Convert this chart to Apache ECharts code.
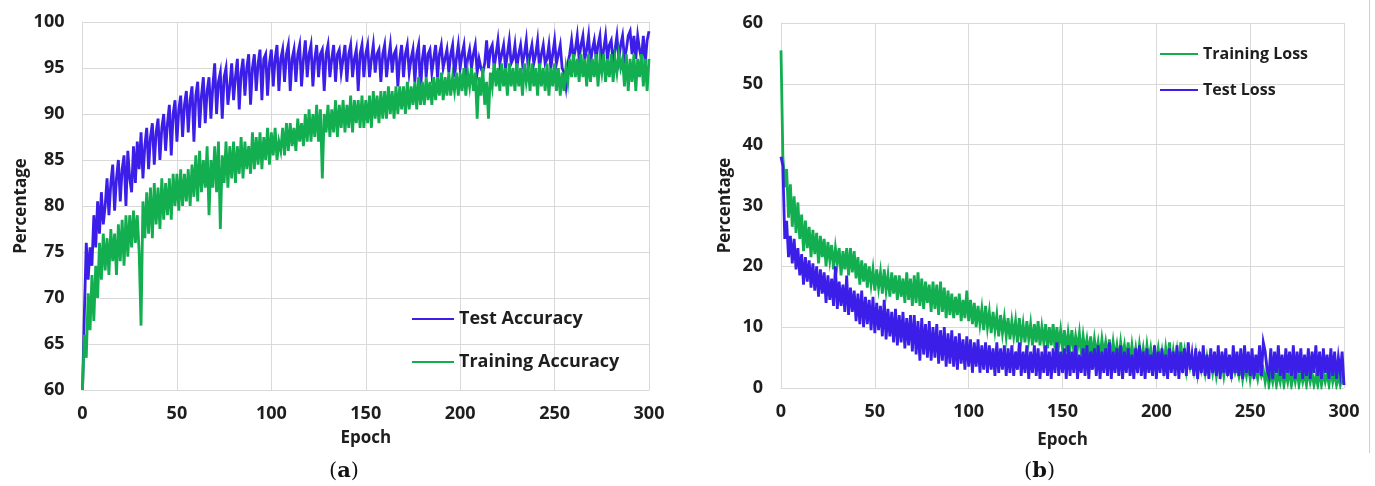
<!DOCTYPE html>
<html>
<head>
<meta charset="utf-8">
<title>Accuracy and loss per epoch</title>
<script src="https://cdn.jsdelivr.net/npm/echarts@6/dist/echarts.min.js"></script>
<style>
  html, body { margin: 0; padding: 0; background: #ffffff; }
  #chart { width: 1375px; height: 486px; }
</style>
</head>
<body>
<div id="chart"></div>
<script>
// Epoch ticks shared by both panels
const epochTicks = [0, 50, 100, 150, 200, 250, 300];
const accTicks = [60, 65, 70, 75, 80, 85, 90, 95, 100];
const lossTicks = [0, 10, 20, 30, 40, 50, 60];

// Panel (a): accuracy per epoch, epochs 0..300
const testAcc = [
  60, 68.5, 76, 72, 75.5, 73.5, 79, 75.5, 80.5, 77,
  81.5, 78, 80, 83, 79, 82.5, 84.5, 79.5, 83, 85,
  80.5, 84, 85.5, 80, 86, 83, 81.5, 86.5, 82.5, 87,
  84, 88, 83, 86.5, 88.5, 84, 87.5, 89, 84.5, 88,
  89.5, 85, 88.5, 90, 86, 89, 91, 85.5, 90, 91.5,
  87, 90.5, 92, 87.5, 91, 92.5, 88, 91.5, 93, 87,
  92, 93.5, 88.5, 92, 94, 89, 92.5, 94, 89.5, 93,
  95.5, 90, 93.5, 94.5, 89.5, 94, 95, 91, 93, 95.5,
  91.5, 94, 96, 90.5, 94.5, 96, 92, 95, 96.5, 91,
  95, 96.5, 92.5, 95.5, 97, 91.5, 96, 96.5, 92, 95.5,
  97, 93, 96, 97.5, 92.5, 96, 97, 93.5, 96.5, 97.5,
  92.5, 96, 97, 93.5, 96.5, 97.5, 93, 96, 98, 94,
  96.5, 97.5, 93, 96, 97.5, 94, 96.5, 97, 92.5, 96.5,
  97.5, 94, 96, 97.5, 93.5, 96.5, 97, 94.5, 96, 97.5,
  93.5, 96.5, 97.5, 94, 96, 97, 92.5, 96.5, 97.5, 94,
  96.5, 97.5, 94, 96, 97.5, 94.5, 96.5, 97, 93.5, 96.5,
  97.5, 94, 96, 97.5, 94.5, 96.5, 97, 93, 96, 97.5,
  94, 96.5, 97.5, 94.5, 96, 97, 93.5, 96.5, 97.5, 92.5,
  96, 97.5, 94, 96.5, 97, 94.5, 96, 97.5, 94, 96.5,
  97.5, 95, 96, 97, 94.5, 96.5, 97.5, 94, 96, 97.5,
  95, 96.5, 97.5, 94.5, 96, 97, 95, 96.5, 97.5, 94.5,
  96, 95, 94.5, 95.5, 98, 95, 97, 97.5, 95, 96.5,
  98, 95.5, 96.5, 97.5, 95, 96.5, 98, 95.5, 96, 97.5,
  95, 96.5, 97.5, 95.5, 96.5, 98, 95, 96.5, 97.5, 95.5,
  96.5, 98, 95, 96.5, 97.5, 95.5, 96, 97.5, 95, 96.5,
  98, 95.5, 96.5, 97.5, 95, 94.5, 93, 95.5, 96.5, 98,
  96, 97, 98.5, 96, 97.5, 98.5, 96, 97, 98.5, 95.5,
  97, 98, 96, 97.5, 98.5, 95.5, 97, 98.5, 96, 97.5,
  98, 95.5, 97, 98.5, 96, 97.5, 98.5, 96, 97, 98.5,
  99, 96.5, 98.5, 96, 98.5, 97, 96, 98.5, 95.5, 98,
  99
];
const trainAcc = [
  60, 66, 63.5, 70.5, 66.5, 72.5, 67.5, 73.5, 70, 76,
  72, 77, 73, 76.5, 72.5, 77.5, 74, 77, 72.5, 78,
  74, 78.5, 73.5, 79, 74.5, 79, 75.5, 79.5, 76, 79,
  75, 67, 80.5, 76.5, 81.5, 77, 82, 76.5, 82.5, 78,
  82, 77.5, 83, 78.5, 82.5, 79, 83, 78.5, 83.5, 80,
  83.5, 79.5, 84, 80, 83.5, 80.5, 84, 80, 84.5, 81,
  85.5, 80.5, 86, 81.5, 85, 82, 86.5, 79, 85, 82,
  86.5, 81.5, 87, 77.5, 85.5, 82.5, 87, 82, 86.5, 83,
  87, 82.5, 86.5, 83.5, 87.5, 83, 87, 84, 86.5, 83.5,
  88, 84, 87.5, 84.5, 88, 84, 87.5, 85, 88.5, 84.5,
  88, 85.5, 88.5, 85, 87, 86, 88.5, 85.5, 89, 86,
  89, 86.5, 88.5, 86, 89.5, 87, 89, 86.5, 90, 87,
  90.5, 87, 90, 87.5, 91, 87, 90.5, 83, 90, 88,
  91, 87.5, 90.5, 88, 91.5, 87.5, 91, 88.5, 91.5, 88,
  91, 88.5, 92, 88, 91.5, 89, 91.5, 88.5, 92, 88.5,
  91.5, 89, 92, 88.5, 92.5, 89.5, 92, 89, 92.5, 89.5,
  92.5, 89.5, 93, 90, 92.5, 89.5, 93, 90, 93, 90.5,
  93, 90, 93.5, 90.5, 93, 91, 93.5, 90.5, 94, 91,
  93.5, 91, 94, 91.5, 93.5, 91, 94, 91.5, 94, 92,
  94.5, 91.5, 94, 92, 94.5, 92, 94, 92.5, 94.5, 92,
  94.5, 92.5, 95, 92, 94.5, 93, 95, 92.5, 94.5, 89.5,
  94, 92, 95, 91, 93.5, 89.5, 94.5, 93, 95.5, 93,
  95, 92.5, 95.5, 93, 95, 92, 95.5, 93, 95, 92.5,
  95.5, 93, 95, 92, 95.5, 93.5, 95, 92.5, 95.5, 93,
  95, 92, 95.5, 93, 95, 92.5, 95.5, 92, 95, 93,
  95.5, 92.5, 95, 92, 94.5, 92.5, 95, 93.5, 96, 94,
  96.5, 94, 96, 93.5, 96.5, 94, 96, 93, 96.5, 93.5,
  96, 94, 96.5, 93, 96, 94.5, 96.5, 93.5, 96, 94,
  96.5, 93.5, 96, 94.5, 96.5, 95, 96, 93, 96.5, 92.5,
  96, 93.5, 96.5, 92.5, 96, 94, 96.5, 93, 96, 92.5,
  96
];

// Panel (b): loss per epoch, epochs 0..300
const trainLoss = [
  55.5, 38, 33, 36, 28, 33.5, 26.5, 31.5, 25.5, 30.5,
  24.5, 28.5, 22.5, 27.5, 23, 26.5, 21.5, 26, 22, 25.5,
  20.5, 25, 21.5, 24.5, 20, 24, 21, 23.5, 19.5, 23,
  20.5, 23, 18.5, 22.5, 19.5, 23, 18.5, 23, 19, 22.5,
  18, 21.5, 17, 21, 17.5, 20.5, 16.5, 20, 17, 19.5,
  16, 19.5, 16.5, 19, 15.5, 19.5, 16, 18.5, 15, 19,
  15.5, 18.5, 14.5, 18.5, 15, 18, 14, 19, 14.5, 18,
  13.5, 18.5, 14, 19, 13.5, 18, 13, 17.5, 14, 17,
  12.5, 17.5, 13, 17, 12, 17.5, 12.5, 16.5, 11.5, 16,
  12, 15.5, 11.5, 15, 12, 15.5, 11, 14.5, 11.5, 16,
  11, 14.5, 10.5, 14, 10, 13.5, 10.5, 13, 9.5, 13.5,
  10, 12.5, 9, 12.5, 9.5, 12, 8.5, 12, 9, 11.5,
  8.5, 11.5, 8, 11, 8.5, 11, 7.5, 11.5, 8, 10.5,
  7.5, 11, 8, 10.5, 7, 10.5, 7.5, 11, 7, 10,
  7.5, 10.5, 6.5, 10, 7, 10.5, 6.5, 10, 7, 9.5,
  6.5, 9.5, 6, 9, 6.5, 9.5, 6, 8.5, 6.5, 9,
  5.5, 8.5, 6, 8, 5.5, 8.5, 5, 8, 5.5, 7.5,
  5, 8, 5.5, 7.5, 5, 8, 4.5, 7.5, 5, 7,
  4.5, 7.5, 5, 7, 4.5, 7.5, 4, 7, 4.5, 6.5,
  4, 7, 4.5, 6.5, 4, 7, 4.5, 6.5, 4, 6,
  4.5, 6.5, 4, 6, 3.5, 6.5, 4, 7.5, 3.5, 6,
  3.5, 6, 3, 7.5, 4, 6, 3, 5.5, 3.5, 5,
  3, 5.5, 2.5, 5, 3, 4.5, 2.5, 5, 3, 4.5,
  2.5, 4.5, 2, 4, 2.5, 4.5, 2, 4, 2.5, 3.5,
  2, 4, 2.5, 3.5, 2, 4, 1.5, 3.5, 2, 4,
  1.5, 3.5, 2, 3, 1.5, 3.5, 2, 3, 1, 3,
  0.5, 2.5, 1, 3, 0.5, 2.5, 1, 3, 0.5, 2.5,
  1, 3, 0.5, 2.5, 1, 3, 0.5, 2.5, 1, 2.5,
  0.5, 3, 1, 2.5, 0.5, 2, 0.5, 3, 0.5, 2.5,
  1, 2.5, 0.5, 3, 1, 2.5, 0.5, 2, 0.5, 2,
  0.5
];
const testLoss = [
  38, 36.5, 24.5, 27.5, 21.5, 25, 20.5, 24.5, 19.5, 23,
  18.5, 22, 17, 21.5, 17.5, 21, 16.5, 20.5, 16, 20,
  15, 19.5, 15.5, 19, 14, 18.5, 14.5, 18, 13.5, 20,
  13, 17.5, 13.5, 17, 12.5, 18.5, 12, 16.5, 12.5, 16,
  11, 15.5, 10.5, 16, 10, 15, 10.5, 14.5, 9.5, 15,
  9, 14, 9.5, 13.5, 8.5, 14.5, 8, 13, 8.5, 12.5,
  7.5, 13, 7, 12, 7.5, 12.5, 6.5, 11.5, 7, 12,
  6, 12, 5.5, 11, 4.5, 11.5, 5.5, 10.5, 5, 11,
  4.5, 10, 5, 10.5, 4, 9.5, 4.5, 10, 3.5, 9,
  4, 9.5, 3.5, 8.5, 3, 9, 4, 8, 3, 8.5,
  3.5, 8, 2.5, 7.5, 3.5, 8, 2.5, 7, 3, 7.5,
  2.5, 7, 3, 6.5, 2, 7.5, 2.5, 6.5, 3, 7,
  2, 6.5, 2.5, 7, 2, 6, 3, 7.5, 2, 6,
  2.5, 7, 1.5, 6, 2.5, 7, 2, 6.5, 1.5, 6,
  2.5, 7, 2, 6, 1.5, 6.5, 2.5, 7.5, 2, 6,
  2.5, 6.5, 1.5, 7, 2, 6, 2.5, 7, 1.5, 5.5,
  2.5, 6.5, 2, 7, 1.5, 6, 3, 6.5, 2, 7,
  1.5, 6, 2.5, 6.5, 2, 7.5, 1.5, 6, 2.5, 6.5,
  2, 7, 1.5, 6, 2.5, 6.5, 2, 5.5, 1.5, 6.5,
  2.5, 7, 2, 6, 1.5, 6.5, 2.5, 5.5, 2, 7,
  1.5, 6, 2.5, 6.5, 2, 5.5, 1.5, 6.5, 2.5, 6,
  2, 7, 1.5, 6, 2.5, 6.5, 2, 7.5, 3, 5.5,
  2, 6.5, 1.5, 6, 2.5, 7, 2, 5.5, 1.5, 6.5,
  2.5, 6, 2, 7, 1.5, 6, 2.5, 6.5, 2, 5.5,
  1.5, 7, 2.5, 6, 2, 6.5, 1.5, 7, 2.5, 6,
  2, 6.5, 1.5, 5.5, 2.5, 7, 2, 7.5, 6, 3,
  2, 6.5, 1.5, 6, 2.5, 7, 2, 5.5, 1.5, 6.5,
  2.5, 6, 2, 7, 1.5, 6, 2.5, 6.5, 1.5, 5.5,
  2, 6.5, 1.5, 6, 2.5, 7, 2, 6, 1.5, 6.5,
  2.5, 5.5, 1.5, 6.5, 2, 6, 1.5, 5, 2.5, 6,
  0.5
];

const BLUE = '#3B1FE8';
const GREEN = '#12AE50';
const TEXT = '#1e1e1e';
const GRID = '#d9d9d9';
const FONT = '"Open Sans", "Noto Sans", sans-serif';
const SERIF = '"DejaVu Serif", "Liberation Serif", serif';

const pairs = arr => arr.map((v, i) => [i, v]);

function xAxisFor(gridIndex, gap) {
  return {
    gridIndex,
    type: 'value',
    min: epochTicks[0],
    max: epochTicks[epochTicks.length - 1],
    interval: epochTicks[1] - epochTicks[0],
    name: 'Epoch',
    nameLocation: 'middle',
    nameGap: gap,
    nameTextStyle: { color: TEXT, fontFamily: FONT, fontWeight: 'bold', fontSize: 17 },
    axisLine: { show: true, lineStyle: { color: GRID, width: 1 } },
    axisTick: { show: false },
    splitLine: { show: true, lineStyle: { color: GRID, width: 1 } },
    axisLabel: { color: TEXT, fontFamily: FONT, fontWeight: 'bold', fontSize: 18, margin: 15 }
  };
}

function yAxisFor(gridIndex, ticks, gap) {
  return {
    gridIndex,
    type: 'value',
    min: ticks[0],
    max: ticks[ticks.length - 1],
    interval: ticks[1] - ticks[0],
    name: 'Percentage',
    nameLocation: 'middle',
    nameGap: gap,
    nameRotate: 90,
    nameTextStyle: { color: TEXT, fontFamily: FONT, fontWeight: 'bold', fontSize: 17 },
    axisLine: { show: true, lineStyle: { color: GRID, width: 1 } },
    axisTick: { show: false },
    splitLine: { show: true, lineStyle: { color: GRID, width: 1 } },
    axisLabel: { color: TEXT, fontFamily: FONT, fontWeight: 'bold', fontSize: 18, margin: 18 }
  };
}

function legendFor(name, left, top, width, size) {
  return {
    data: [name],
    left, top,
    padding: 0,
    icon: 'rect',
    itemWidth: width,
    itemHeight: 2,
    selectedMode: false,
    textStyle: { color: TEXT, fontFamily: FONT, fontWeight: 'bold', fontSize: size }
  };
}

function lineSeries(name, data, color, xi, z) {
  return {
    name,
    type: 'line',
    xAxisIndex: xi,
    yAxisIndex: xi,
    data: pairs(data),
    showSymbol: false,
    symbol: 'none',
    z,
    lineStyle: { color, width: 2.8, join: 'miter' },
    itemStyle: { color }
  };
}

const chart = echarts.init(document.getElementById('chart'), null, { renderer: 'canvas' });
chart.setOption({
  animation: false,
  backgroundColor: '#ffffff',
  grid: [
    { left: 82.5, right: 726, top: 22, bottom: 96 },
    { left: 781, right: 31, top: 23, bottom: 98 }
  ],
  xAxis: [xAxisFor(0, 40), xAxisFor(1, 44)],
  yAxis: [yAxisFor(0, accTicks, 53), yAxisFor(1, lossTicks, 47)],
  legend: [
    legendFor('Test Accuracy', 412, 310, 42, 18),
    legendFor('Training Accuracy', 412, 353, 42, 18),
    legendFor('Training Loss', 1160, 46, 38, 16),
    legendFor('Test Loss', 1160, 82, 38, 16)
  ],
  series: [
    lineSeries('Test Accuracy', testAcc, BLUE, 0, 2),
    lineSeries('Training Accuracy', trainAcc, GREEN, 0, 3),
    lineSeries('Training Loss', trainLoss, GREEN, 1, 2),
    lineSeries('Test Loss', testLoss, BLUE, 1, 3)
  ],
  graphic: [
    {
      type: 'text', left: 329, top: 461,
      style: {
        text: '({a|a})',
        fontFamily: SERIF, fontSize: 21, fill: '#111',
        rich: { a: { fontWeight: 'bold', fontFamily: SERIF, fontSize: 21, fill: '#111' } }
      }
    },
    {
      type: 'text', left: 1024, top: 461,
      style: {
        text: '({a|b})',
        fontFamily: SERIF, fontSize: 21, fill: '#111',
        rich: { a: { fontWeight: 'bold', fontFamily: SERIF, fontSize: 21, fill: '#111' } }
      }
    },
    {
      type: 'line',
      shape: { x1: 1369.5, y1: 0, x2: 1369.5, y2: 453 },
      style: { stroke: '#cfcfcf', lineWidth: 1 }
    }
  ]
});
</script>
</body>
</html>
